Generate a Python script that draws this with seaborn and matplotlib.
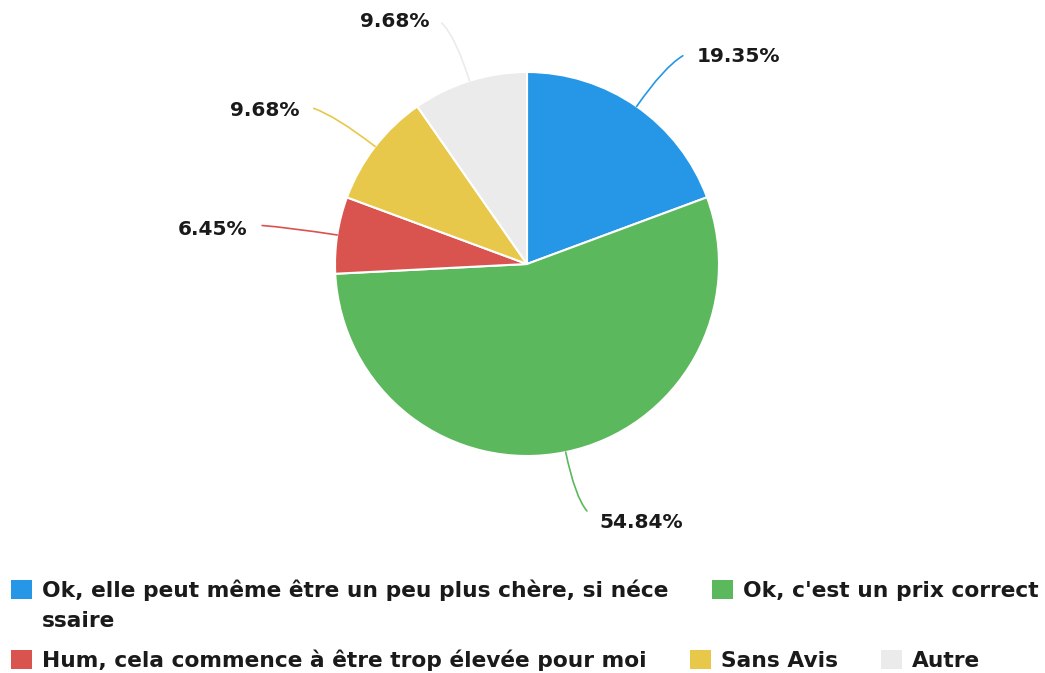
import numpy as np
import matplotlib
matplotlib.use("Agg")
import matplotlib.pyplot as plt
import seaborn as sns
from matplotlib.patches import Patch

# data
labels = [
    "Ok, elle peut même être un peu plus chère, si néce",
    "Ok, c'est un prix correct",
    "Hum, cela commence à être trop élevée pour moi",
    "Sans Avis",
    "Autre",
]
wrap_rest = "ssaire"   # legend label wraps onto a second line
shares = [19.35, 54.84, 6.45, 9.68, 9.68]
colors = ["#2597e6", "#5cb85c", "#d9534f", "#e8c84a", "#ebebeb"]

sns.set_theme(style="white")
plt.rcParams["font.family"] = ["DejaVu Sans"]

fig = plt.figure(figsize=(10.45, 6.73), dpi=100)
ax = fig.add_axes([0, 0, 1, 1])

wedges, _ = ax.pie(shares, colors=colors, startangle=90, counterclock=False,
                   radius=1, wedgeprops=dict(edgecolor="white", linewidth=1.5))
# centre at (527, 264) px from top-left, radius 192 px
ax.set_xlim(-527 / 192, (1045 - 527) / 192)
ax.set_ylim(-409 / 192, (673 - 409) / 192)
ax.axis("off")

# percentage labels with curved connectors
for w, v, c in zip(wedges, shares, colors):
    ang = (w.theta1 + w.theta2) / 2
    a = np.deg2rad(ang)
    ex, ey = np.cos(a), np.sin(a)
    lx, ly = 1.37 * ex, 1.35 * ey
    right = ex >= 0
    tx = lx + (0.1 if right else -0.1)
    ax.annotate(f"{v:.2f}%", xy=(ex, ey), xytext=(tx, ly - 0.025),
                ha="left" if right else "right", va="center",
                fontsize=14.5, fontweight="bold", color="#1a1a1a",
                arrowprops=dict(arrowstyle="-", color=c, lw=1.2,
                                relpos=(0, 0.75) if right else (1, 0.75),
                                shrinkA=8, shrinkB=0,
                                connectionstyle=f"angle3,angleA=0,angleB={ang}"))

handles = [Patch(facecolor=c, edgecolor="none") for c in colors]
leg_kw = dict(frameon=False, handlelength=0.95, handleheight=1.0,
              handletextpad=0.45, borderaxespad=0, borderpad=0,
              columnspacing=2.0, prop=dict(size=15.7, weight="bold"))

leg1 = fig.legend(handles[:2], labels[:2], ncol=2, loc="center left",
                  bbox_to_anchor=(0.011, 83 / 673), **leg_kw)
leg2 = fig.legend(handles[2:], labels[2:], ncol=3, loc="center left",
                  bbox_to_anchor=(0.011, 13 / 673), **leg_kw)
for leg in (leg1, leg2):
    for t in leg.get_texts():
        t.set_color("#1a1a1a")

# second line of the wrapped legend label
fig.canvas.draw()
bb = leg1.get_texts()[0].get_window_extent()
fig.text(bb.x0 / fig.bbox.width, 52 / 673, wrap_rest, ha="left", va="center",
         fontsize=15.7, fontweight="bold", color="#1a1a1a")

fig.savefig("out.png", dpi=100)
